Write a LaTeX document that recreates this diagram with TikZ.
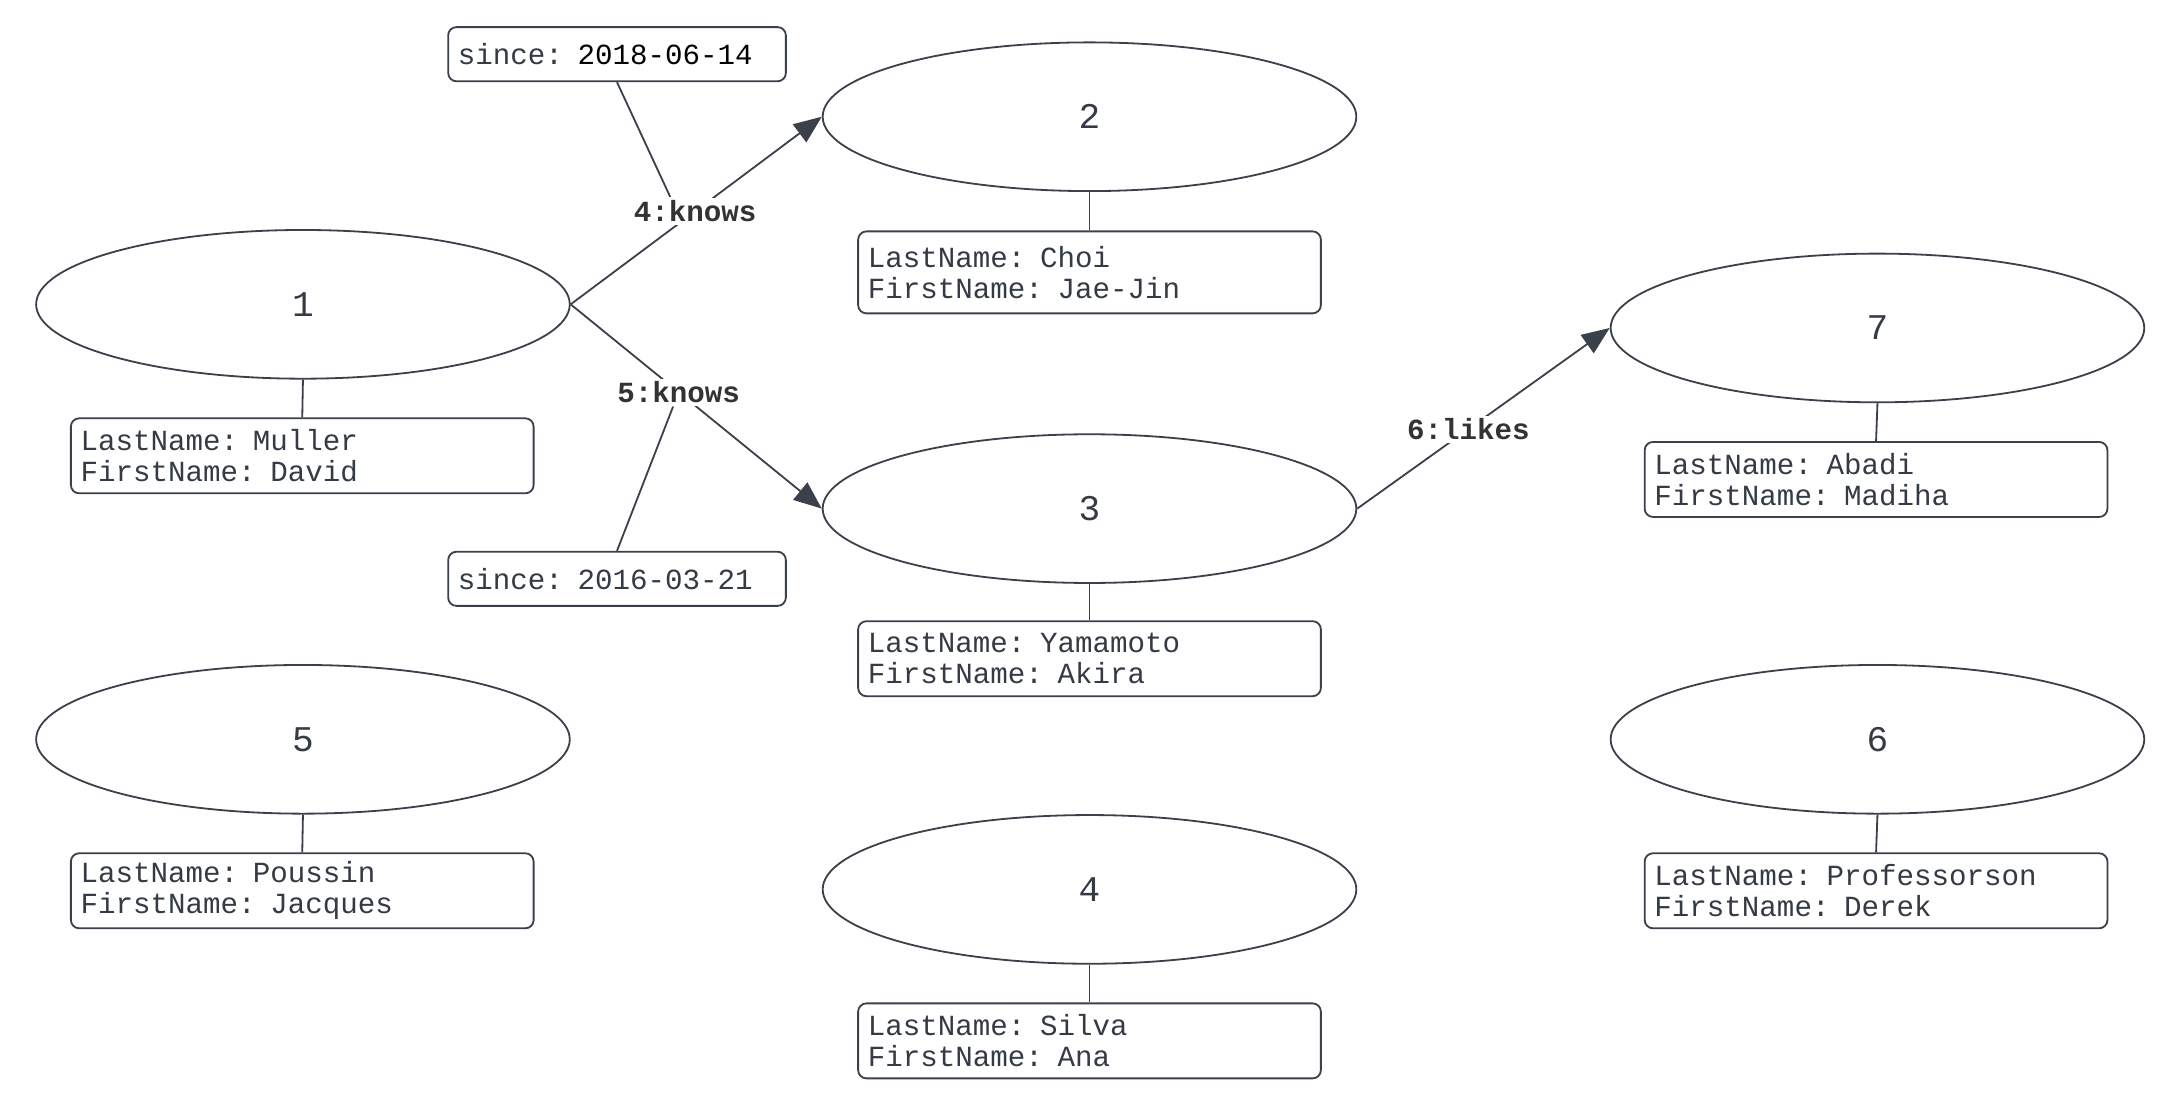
\documentclass[tikz,border=0pt]{standalone}
\usepackage{fontspec}
\setmonofont{Liberation Mono}
\usetikzlibrary{shapes.geometric,arrows.meta}
\definecolor{ink}{HTML}{3A414A}
\definecolor{txt}{HTML}{343B45}
\definecolor{lbltxt}{HTML}{333333}

\begin{document}
\begin{tikzpicture}[x=1pt,y=-1pt,
  vertex/.style={ellipse,draw=ink,line width=1.3pt,minimum width=384pt,minimum height=107pt,
    inner sep=0pt,font=\ttfamily\fontsize{26}{30}\selectfont,text=txt},
  props/.style={rectangle,rounded corners=6pt,draw=ink,line width=1.3pt,minimum width=333pt,
    minimum height=54pt,text width=319pt,align=left,inner xsep=7pt,inner ysep=3pt,
    font=\ttfamily\fontsize{21}{22.5}\selectfont,text=txt},
  since/.style={rectangle,rounded corners=6pt,draw=ink,line width=1.3pt,minimum width=243pt,
    minimum height=39pt,text width=229pt,align=left,inner xsep=7pt,inner ysep=3pt,
    font=\ttfamily\fontsize{21}{22.5}\selectfont,text=txt},
  link/.style={draw=ink,line width=1.3pt},
  rel/.style={link,-{Triangle[length=20pt,width=16pt]}},
  rlabel/.style={fill=white,inner sep=2pt,font=\ttfamily\bfseries\fontsize{21}{24}\selectfont,text=lbltxt}
]
\useasboundingbox[fill=white] (0,0) rectangle (1568,800);

% vertices
\node[vertex] (v1) at (218,219) {1};
\node[vertex] (v2) at (784,84) {2};
\node[vertex] (v3) at (784,366) {3};
\node[vertex] (v7) at (1351,236) {7};
\node[vertex] (v5) at (218,532) {5};
\node[vertex] (v4) at (784,640) {4};
\node[vertex] (v6) at (1351,532) {6};

% vertex properties
\node[props] (p1) at (217.5,328) {LastName: Muller\\FirstName: David};
\node[props,minimum height=59pt] (p2) at (784,196) {LastName: Choi\\FirstName: Jae-Jin};
\node[props] (p3) at (784,474) {LastName: Yamamoto\\FirstName: Akira};
\node[props] (p7) at (1350,345) {LastName: Abadi\\FirstName: Madiha};
\node[props] (p5) at (217.5,641) {LastName: Poussin\\FirstName: Jacques};
\node[props] (p6) at (1350,641) {LastName: Professorson\\FirstName: Derek};
\node[props] (p4) at (784,749) {LastName: Silva\\FirstName: Ana};

\foreach \v in {1,2,3,7,5,4,6}
  \draw[link] (v\v.south) -- (p\v.north);

% edge properties
\node[since] (s4) at (444,39) {since: \textcolor{black}{2018-06-14}};
\node[since] (s5) at (444,416.5) {since: 2016-03-21};

% edges
\draw[rel] (v1.east) -- node[rlabel,pos=0.496] (l4) {4:knows} (v2.west);
\draw[rel] (v1.east) -- node[rlabel,pos=0.43] (l5) {5:knows} (v3.west);
\draw[rel] (v3.east) -- node[rlabel,pos=0.44] (l6) {6:likes} (v7.west);

\draw[link] (s4.south) -- ([xshift=-18pt]l4.north);
\draw[link] (s5.north) -- ([xshift=-4pt]l5.south);
\end{tikzpicture}
\end{document}
